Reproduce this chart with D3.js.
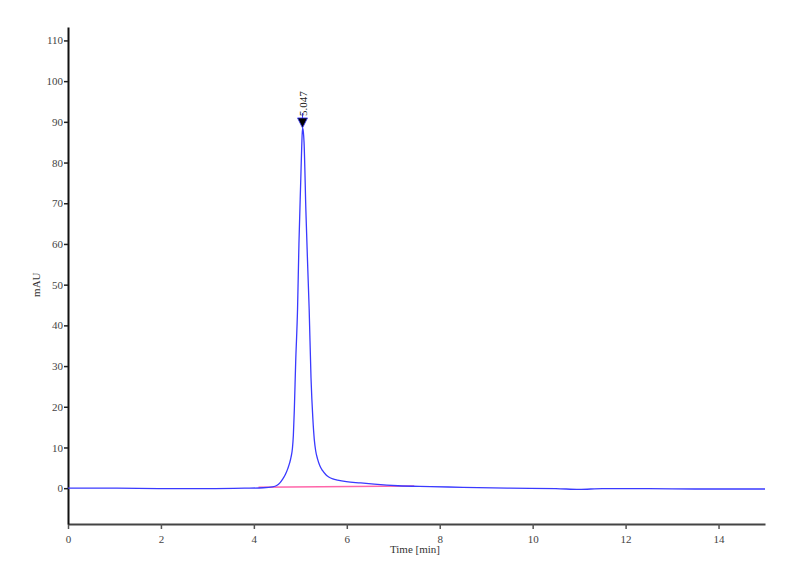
<!DOCTYPE html>
<html>
<head>
<meta charset="utf-8">
<script src="https://cdn.jsdelivr.net/npm/d3@7"></script>
<style>
  body { margin: 0; background: #fff; }
  svg { display: block; }
  text { font-family: "Liberation Serif", "DejaVu Serif", serif; }
</style>
</head>
<body>
<div id="chart"></div>
<script>
// chromatogram trace
const time = [0, 1, 2, 3, 3.8, 4.2, 4.4, 4.5, 4.56, 4.62, 4.68, 4.73, 4.77, 4.80, 4.83, 4.85, 4.87, 4.90, 4.94, 4.97, 5.01, 5.03, 5.047,
  5.065, 5.08, 5.12, 5.16, 5.19, 5.23, 5.27, 5.30, 5.33, 5.37, 5.42, 5.48, 5.55, 5.62, 5.70, 5.80, 5.99, 6.3, 6.59, 7.1, 7.8,
  8.5, 9.5, 10.5, 11, 11.5, 12.5, 13.5, 15];
const mAU = [0, 0, -0.1, -0.1, 0, 0.1, 0.3, 0.7, 1.3, 2.2, 3.4, 4.8, 6.2, 7.6, 9.8, 13, 19, 31, 44, 60, 76, 84, 88.5,
  87.5, 85, 68, 54, 44, 27, 17, 12, 9.2, 7.2, 5.5, 4.3, 3.3, 2.7, 2.3, 2.0, 1.6, 1.3, 1.0, 0.6, 0.4,
  0.2, 0, -0.1, -0.3, -0.1, -0.1, -0.2, -0.2];

// integration baseline (pink)
const baseTime = [4.1, 7.45];
const baseMAU = [0.2, 0.55];

// peak labels
const peakTimes = [5.047];
const peakHeights = [88.5];
const peakLabels = ["5.047"];

const xTicks = [0, 2, 4, 6, 8, 10, 12, 14];
const yTicks = [0, 10, 20, 30, 40, 50, 60, 70, 80, 90, 100, 110];

const width = 800, height = 587;
const margin = { left: 68, right: 35, top: 27, bottom: 63 };

const svg = d3.select("#chart").append("svg")
  .attr("width", width)
  .attr("height", height);

const x = d3.scaleLinear().domain([0, 15]).range([margin.left, width - margin.right]);
const y = d3.scaleLinear().domain([-8.8, 113.3]).range([height - margin.bottom, margin.top]);

// x axis
const xAxis = svg.append("g")
  .attr("transform", `translate(0,${height - margin.bottom})`)
  .call(d3.axisBottom(x).tickValues(xTicks).tickSize(5).tickSizeOuter(0).tickFormat(d3.format("d")));
xAxis.select(".domain").attr("stroke", "#444").attr("stroke-width", 2);
xAxis.selectAll(".tick line").attr("stroke", "#555").attr("stroke-width", 1.5);
xAxis.selectAll(".tick text").attr("font-size", 11).attr("fill", "#444")
  .attr("font-family", "Liberation Serif, serif").attr("dy", "1em");

// y axis
const yAxis = svg.append("g")
  .attr("transform", `translate(${margin.left},0)`)
  .call(d3.axisLeft(y).tickValues(yTicks).tickSize(4).tickSizeOuter(0));
yAxis.select(".domain").attr("stroke", "#111").attr("stroke-width", 2);
yAxis.selectAll(".tick line").attr("stroke", "#222").attr("stroke-width", 1.5);
yAxis.selectAll(".tick text").attr("font-size", 11).attr("fill", "#444")
  .attr("font-family", "Liberation Serif, serif").attr("x", -5);

// axis titles
svg.append("text")
  .attr("x", 415).attr("y", 553)
  .attr("text-anchor", "middle")
  .attr("font-size", 11).attr("fill", "#333")
  .text("Time [min]");

svg.append("text")
  .attr("transform", `translate(40,${y(50)}) rotate(-90)`)
  .attr("text-anchor", "middle")
  .attr("font-size", 11).attr("fill", "#333")
  .text("mAU");

// baseline
const baseData = baseTime.map((t, i) => [t, baseMAU[i]]);
svg.append("path")
  .datum(baseData)
  .attr("fill", "none")
  .attr("stroke", "#ff66aa")
  .attr("stroke-width", 1.5)
  .attr("d", d3.line().x(d => x(d[0])).y(d => y(d[1])));

// trace
const trace = time.map((t, i) => [t, mAU[i]]);
svg.append("path")
  .datum(trace)
  .attr("fill", "none")
  .attr("stroke", "#3a3aff")
  .attr("stroke-width", 1.3)
  .attr("d", d3.line().curve(d3.curveMonotoneX).x(d => x(d[0])).y(d => y(d[1])));

// peak markers
peakTimes.forEach((t, i) => {
  const px = x(t), py = y(peakHeights[i]);
  svg.append("path")
    .attr("d", `M${px - 5},${py - 10} L${px + 5},${py - 10} L${px},${py} Z`)
    .attr("fill", "#000")
    .attr("stroke", "#3a3aff")
    .attr("stroke-width", 0.8);
  svg.append("line")
    .attr("x1", px).attr("x2", px)
    .attr("y1", py - 15).attr("y2", py - 10)
    .attr("stroke", "#3a3aff");
  svg.append("text")
    .attr("transform", `translate(${px + 4},${py - 12}) rotate(-90)`)
    .attr("font-size", 11).attr("fill", "#222")
    .text(peakLabels[i]);
});
</script>
</body>
</html>
